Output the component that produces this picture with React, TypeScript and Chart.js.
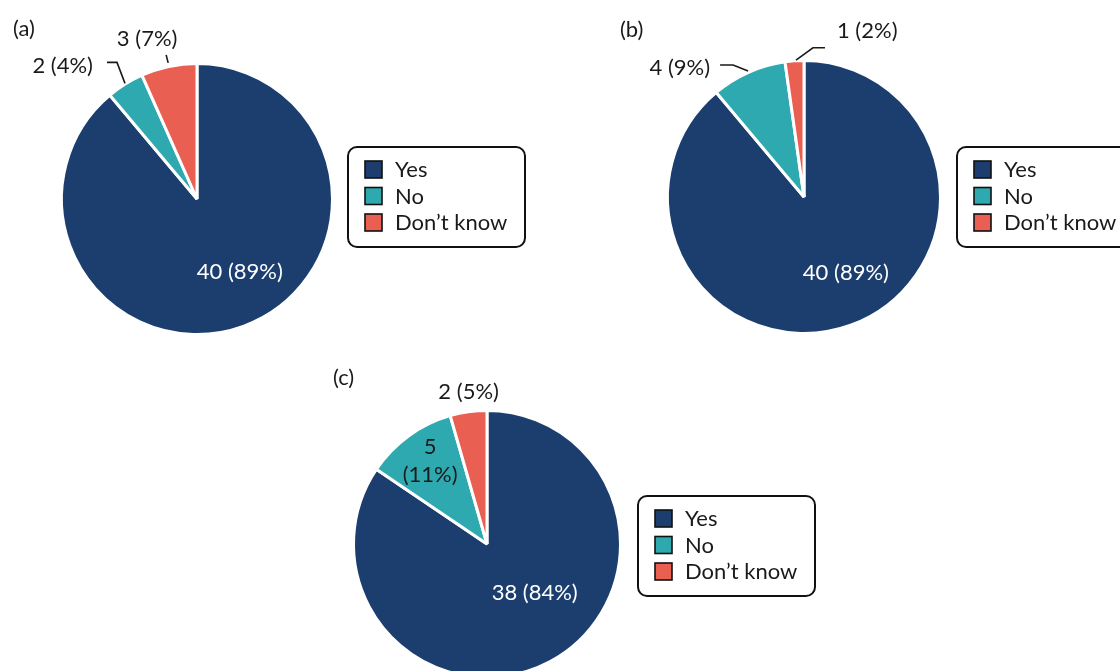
import React, { useEffect, useRef } from "react";
import { Chart, registerables } from "chart.js";

Chart.register(...registerables);

// ---------------- data ----------------
const categories = ["Yes", "No", "Don’t know"];
const sliceColors = ["#1c3e6f", "#2ea9b0", "#e95f51"];

const valuesA = [40, 2, 3];
const valuesB = [40, 4, 1];
const valuesC = [38, 5, 2];

const pctA = ["89%", "4%", "7%"];
const pctB = ["89%", "9%", "2%"];
const pctC = ["84%", "11%", "5%"];

const panelTags = ["(a)", "(b)", "(c)"];

// ---------------- styles / layout ----------------
const W = 1120;
const FONT = '22px Lato, "Noto Sans", sans-serif';
const TEXT = "#1a1a1a";
const BW = 3;

type InLabel = { mode: "in"; f: number; da: number; color: string; split?: boolean };
type OutLabel = { mode: "out"; line: number[][]; text: [number, number]; align: CanvasTextAlign };
type LabelSpec = InLabel | OutLabel;

type Panel = {
  tag: string;
  values: number[];
  pcts: string[];
  cx: number;
  cy: number;
  r: number;
  h: number;
  tagOff: [number, number];
  legOff: [number, number];
  labels: LabelSpec[];
};

const panels: Panel[] = [
  {
    tag: panelTags[0],
    values: valuesA,
    pcts: pctA,
    cx: 197,
    cy: 199,
    r: 134,
    h: 671,
    tagOff: [-184, -170],
    legOff: [17, -52],
    labels: [
      { mode: "in", f: 0.63, da: -10.5, color: "#ffffff" },
      { mode: "out", line: [[-1, -2], [-9, -23], [-19, -23]], text: [-33, -19], align: "right" },
      { mode: "out", line: [[-1, -5], [-3, -13]], text: [-22, -29], align: "center" },
    ],
  },
  {
    tag: panelTags[1],
    values: valuesB,
    pcts: pctB,
    cx: 804,
    cy: 197,
    r: 135,
    h: 671,
    tagOff: [-184, -167],
    legOff: [18, -50],
    labels: [
      { mode: "in", f: 0.64, da: -9, color: "#ffffff" },
      { mode: "out", line: [[-1, -2.7], [-16, -8.7], [-29, -8.7]], text: [-39, -5.7], align: "right" },
      { mode: "out", line: [[1.4, -2.3], [18.4, -14.6], [30.4, -14.6]], text: [42.4, -31], align: "left" },
    ],
  },
  {
    tag: panelTags[2],
    values: valuesC,
    pcts: pctC,
    cx: 487,
    cy: 544,
    r: 132,
    h: 900,
    tagOff: [-154, -166],
    legOff: [19, -48],
    labels: [
      { mode: "in", f: 0.52, da: -16, color: "#ffffff" },
      { mode: "in", f: 0.76, da: 1.5, color: TEXT, split: true },
      { mode: "out", line: [], text: [0, -21], align: "center" },
    ],
  },
];

function makeDecor(p: Panel) {
  return {
    id: "decor",
    afterDatasetsDraw(chart: any) {
      const ctx: CanvasRenderingContext2D = chart.ctx;
      const meta = chart.getDatasetMeta(0);
      const arcs = meta.data.map((a: any) =>
        a.getProps(["x", "y", "startAngle", "endAngle", "outerRadius"], true)
      );
      const cx = arcs[0].x;
      const cy = arcs[0].y;
      const R = p.r;
      ctx.save();
      ctx.font = FONT;
      ctx.textBaseline = "middle";

      // panel tag
      ctx.fillStyle = TEXT;
      ctx.textAlign = "left";
      ctx.fillText(p.tag, cx + p.tagOff[0], cy + p.tagOff[1]);

      // slice labels
      arcs.forEach((arc: any, i: number) => {
        const spec = p.labels[i];
        const mid = (arc.startAngle + arc.endAngle) / 2;
        const v = p.values[i];
        const pc = p.pcts[i];
        if (spec.mode === "in") {
          const a = mid + (spec.da * Math.PI) / 180;
          const x = cx + Math.cos(a) * R * spec.f;
          const y = cy + Math.sin(a) * R * spec.f;
          ctx.fillStyle = spec.color;
          ctx.textAlign = "center";
          if (spec.split) {
            ctx.fillText(String(v), x, y - 14);
            ctx.fillText("(" + pc + ")", x, y + 14);
          } else {
            ctx.fillText(v + " (" + pc + ")", x, y);
          }
        } else {
          const ex = cx + Math.cos(mid) * R;
          const ey = cy + Math.sin(mid) * R;
          if (spec.line.length > 1) {
            ctx.beginPath();
            ctx.strokeStyle = TEXT;
            ctx.lineWidth = 1.6;
            ctx.lineJoin = "miter";
            spec.line.forEach((pt, k) => {
              if (k === 0) ctx.moveTo(ex + pt[0], ey + pt[1]);
              else ctx.lineTo(ex + pt[0], ey + pt[1]);
            });
            ctx.stroke();
          }
          ctx.fillStyle = TEXT;
          ctx.textAlign = spec.align;
          ctx.fillText(v + " (" + pc + ")", ex + spec.text[0], ey + spec.text[1]);
        }
      });

      // legend box
      const bx = cx + R + p.legOff[0];
      const by = cy + p.legOff[1];
      const bw = 177;
      const bh = 100;
      ctx.beginPath();
      ctx.lineWidth = 2;
      ctx.strokeStyle = "#111";
      ctx.roundRect(bx, by, bw, bh, 9);
      ctx.stroke();
      categories.forEach((name, i) => {
        const rowY = by + 22 + i * 26.5;
        ctx.fillStyle = sliceColors[i];
        ctx.fillRect(bx + 17, rowY - 8, 17, 17);
        ctx.lineWidth = 1.6;
        ctx.strokeStyle = "#111";
        ctx.strokeRect(bx + 17, rowY - 8, 17, 17);
        ctx.fillStyle = TEXT;
        ctx.textAlign = "left";
        ctx.fillText(name, bx + 47, rowY + 1);
      });
      ctx.restore();
    },
  };
}

function PieCanvas({ p }: { p: Panel }) {
  const ref = useRef<HTMLCanvasElement | null>(null);
  useEffect(() => {
    let chart: Chart | null = null;
    let cancelled = false;
    const build = () => {
      if (cancelled || !ref.current) return;
      const s = p.r + BW;
      const padding = {
        left: p.cx - s,
        top: p.cy - s,
        right: W - (p.cx + s),
        bottom: p.h - (p.cy + s),
      };
      chart = new Chart(ref.current, {
        type: "pie",
        data: {
          labels: categories,
          datasets: [
            {
              data: p.values,
              backgroundColor: sliceColors,
              borderColor: "#ffffff",
              borderWidth: BW,
              clip: false as any,
            },
          ],
        },
        options: {
          responsive: false,
          animation: false,
          devicePixelRatio: 1,
          events: [],
          layout: { padding },
          plugins: {
            legend: { display: false },
            tooltip: { enabled: false },
          },
        } as any,
        plugins: [makeDecor(p) as any],
      });
    };
    const fl = (document as any).fonts;
    if (fl && fl.load) {
      fl.load(FONT).then(build, build);
    } else {
      build();
    }
    return () => {
      cancelled = true;
      if (chart) chart.destroy();
    };
  }, [p]);
  return (
    <canvas
      ref={ref}
      width={W}
      height={p.h}
      style={{ position: "absolute", left: 0, top: 0, width: W, height: p.h }}
    />
  );
}

export default function App() {
  return (
    <div
      style={{
        position: "fixed",
        left: 0,
        top: 0,
        width: W,
        height: 671,
        overflow: "hidden",
        background: "#ffffff",
      }}
    >
      {panels.map((p) => (
        <PieCanvas key={p.tag} p={p} />
      ))}
    </div>
  );
}
